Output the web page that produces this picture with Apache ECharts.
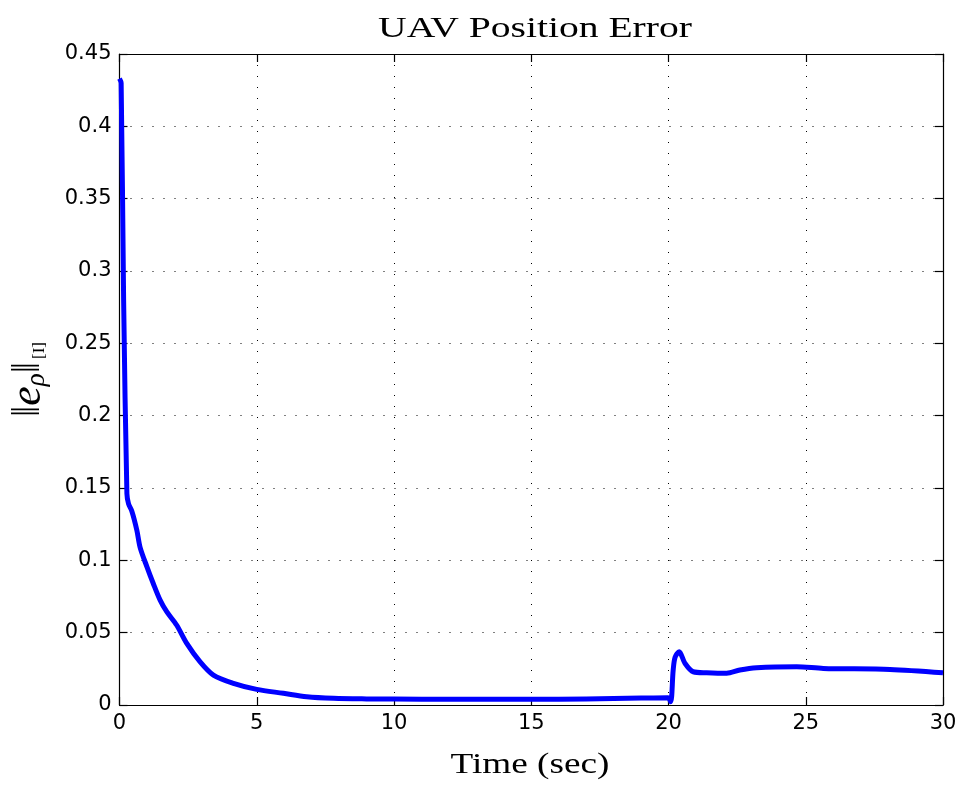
<!DOCTYPE html>
<html>
<head>
<meta charset="utf-8">
<script src="https://cdn.jsdelivr.net/npm/echarts@6/dist/echarts.min.js"></script>
<style>
  html, body { margin: 0; padding: 0; background: #fff; }
  #chart { width: 962px; height: 785px; }
</style>
</head>
<body>
<div id="chart"></div>
<script>
// Norm of the UAV position error over the simulation run
const timeSec = [
  0, 0.06, 0.15, 0.27, 0.33, 0.45, 0.63, 0.75, 1.0, 1.23, 1.48, 1.72, 2.08, 2.45,
  2.93, 3.42, 4.15, 5.0, 5.97, 6.82, 7.8, 9, 10, 12, 14, 15, 17, 19, 19.98,
  20.08, 20.17, 20.24, 20.39, 20.6, 20.9, 21.39, 22.12, 22.6, 23.21, 24.67,
  25.64, 28.07, 30
];
const posError = [
  0.433, 0.43, 0.28, 0.146, 0.139, 0.134, 0.121, 0.109, 0.0955, 0.084, 0.0725, 0.0645, 0.0553, 0.0426,
  0.030, 0.0207, 0.015, 0.0108, 0.0081, 0.0057, 0.0046, 0.0042, 0.0041, 0.0040, 0.0040, 0.0040, 0.0042, 0.0048, 0.0050,
  0.0023, 0.024, 0.033, 0.0368, 0.0288, 0.023, 0.0223, 0.0219, 0.0242, 0.0258, 0.0265,
  0.0253, 0.0246, 0.0223
];
const xTicks = { min: 0, max: 30, step: 5 };
const yTicks = { min: 0, max: 0.45, step: 0.05 };

const titleText = 'UAV Position Error';
const xLabelText = 'Time (sec)';

const lineData = timeSec.map((t, i) => [t, posError[i]]);

const tickFont = { fontFamily: 'DejaVu Sans', fontSize: 21, color: '#000' };
const dotted = { color: '#000', width: 1, type: [1, 10] };
const frameLine = { show: true, onZero: false, lineStyle: { color: '#000', width: 1.2 } };
const inTicks = { show: true, inside: true, length: 8, lineStyle: { color: '#000', width: 1.2 } };

const chart = echarts.init(document.getElementById('chart'), null, { renderer: 'canvas' });
chart.setOption({
  animation: false,
  backgroundColor: '#fff',
  grid: { left: 119.5, right: 19, top: 54, bottom: 80, containLabel: false, outerBoundsMode: 'none' },
  // serif title and x-axis caption, widened like the typeset originals
  graphic: [
    {
      type: 'text', x: 535, y: 29, scaleX: 1.32, scaleY: 1,
      style: {
        text: titleText, textAlign: 'center', textVerticalAlign: 'middle',
        font: '30px "Liberation Serif"', fill: '#000'
      }
    },
    {
      type: 'text', x: 530, y: 765, scaleX: 1.24, scaleY: 1,
      style: {
        text: xLabelText, textAlign: 'center', textVerticalAlign: 'middle',
        font: '30px "Liberation Serif"', fill: '#000'
      }
    }
  ],
  xAxis: [
    {
      type: 'value', min: xTicks.min, max: xTicks.max, interval: xTicks.step,
      position: 'bottom',
      axisLine: frameLine,
      axisTick: inTicks,
      axisLabel: Object.assign({ margin: 8 }, tickFont),
      splitLine: { show: true, lineStyle: dotted }
    },
    {
      type: 'value', min: xTicks.min, max: xTicks.max, interval: xTicks.step,
      position: 'top',
      axisLine: frameLine,
      axisTick: inTicks,
      axisLabel: { show: false },
      splitLine: { show: false }
    }
  ],
  yAxis: [
    {
      type: 'value', min: yTicks.min, max: yTicks.max, interval: yTicks.step,
      position: 'left',
      name: '{n|‖}{e|e}{s|ρ}{n|‖}{i|[I]}',
      nameLocation: 'middle', nameRotate: 90, nameGap: 69,
      nameTextStyle: {
        rich: {
          n: { fontFamily: 'Liberation Serif', fontSize: 40, color: '#000' },
          e: { fontFamily: 'Liberation Serif', fontStyle: 'italic', fontSize: 44, color: '#000' },
          s: { fontFamily: 'Liberation Serif', fontStyle: 'italic', fontSize: 27, color: '#000', padding: [16, 0, 0, 0] },
          i: { fontFamily: 'Liberation Serif', fontSize: 17, color: '#000', padding: [22, 0, 0, 3] }
        }
      },
      axisLine: frameLine,
      axisTick: inTicks,
      axisLabel: Object.assign({ margin: 8 }, tickFont),
      splitLine: { show: true, lineStyle: dotted }
    },
    {
      type: 'value', min: yTicks.min, max: yTicks.max, interval: yTicks.step,
      position: 'right',
      axisLine: frameLine,
      axisTick: inTicks,
      axisLabel: { show: false },
      splitLine: { show: false }
    }
  ],
  series: [
    {
      type: 'line',
      xAxisIndex: 0, yAxisIndex: 0,
      data: lineData,
      showSymbol: false,
      smooth: 0.3,
      lineStyle: { color: '#0000ff', width: 5, cap: 'butt', join: 'round' },
      z: 5
    }
  ]
});
</script>
</body>
</html>
